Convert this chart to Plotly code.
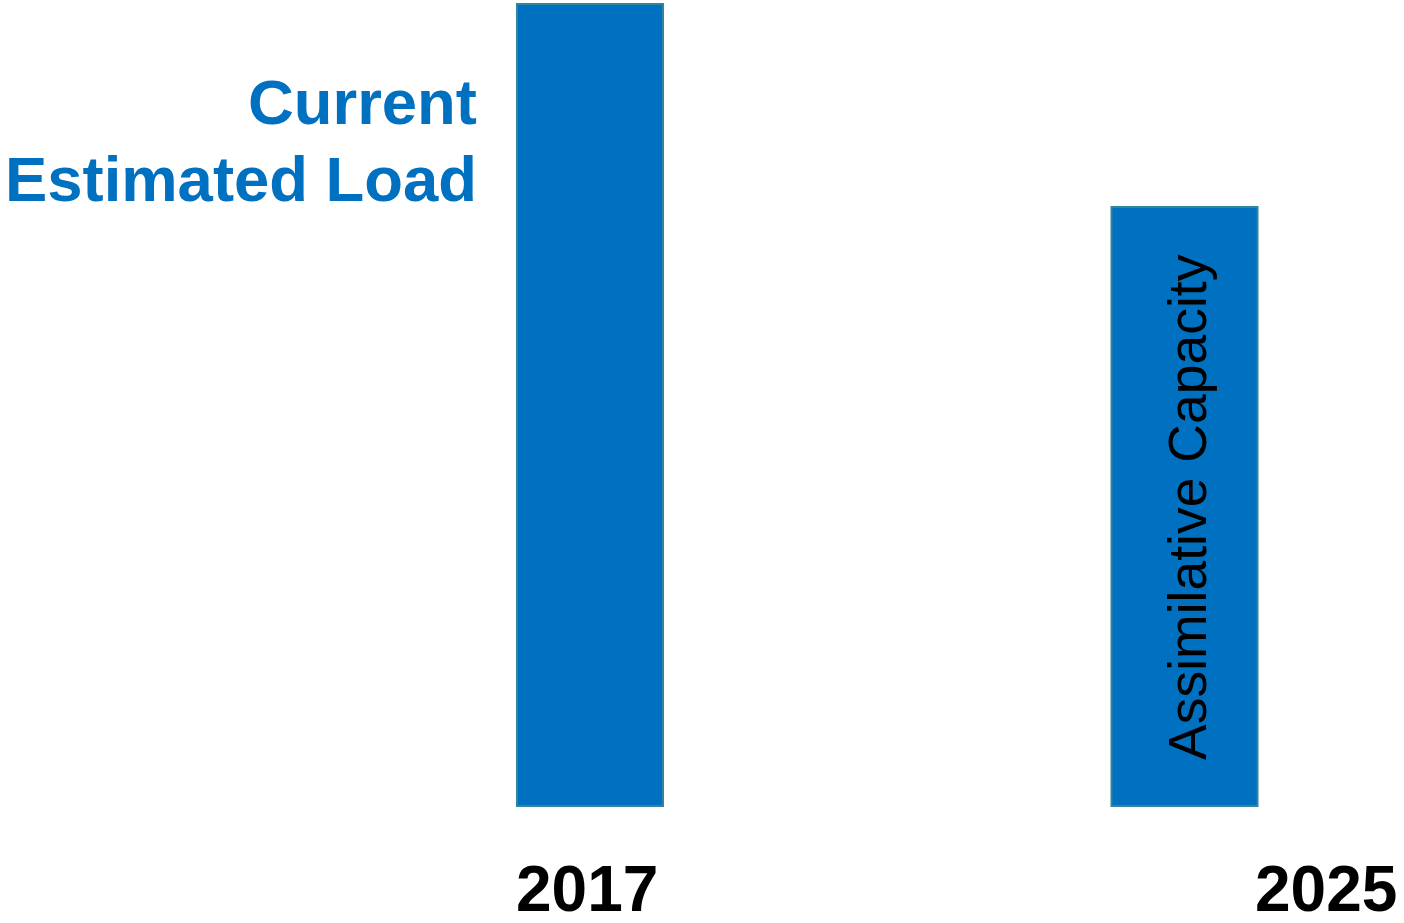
import plotly.graph_objects as go

# Pollutant load comparison: current estimate vs. assimilative capacity
years = ["2017", "2025"]
positions = [0, 1]
loads = [100.0, 74.7]
bar_labels = ["", "Assimilative Capacity"]
side_label = ["Current", "Estimated Load"]

BAR_FILL = "#0070C0"
BAR_EDGE = "#31859C"
BAR_WIDTH = 0.2456
FONT = "Liberation Sans, Arial, sans-serif"

fig = go.Figure(
    go.Bar(
        x=positions,
        y=loads,
        width=BAR_WIDTH,
        marker=dict(color=BAR_FILL, line=dict(color=BAR_EDGE, width=2)),
        hoverinfo="skip",
    )
)

annotations = []

# rotated label inside the capacity bar
annotations.append(dict(
    x=positions[1], y=loads[1] / 2, xref="x", yref="y",
    text=bar_labels[1], textangle=-90, showarrow=False,
    font=dict(family=FONT, size=53.5, color="#000000"),
    xanchor="center", yanchor="middle", xshift=3, yshift=-1,
))

# year labels under the bars
annotations.append(dict(
    x=positions[0], y=-10.6, xref="x", yref="y",
    text=f"<b>{years[0]}</b>", showarrow=False,
    font=dict(family=FONT, size=64, color="#000000"),
    xanchor="center", yanchor="middle", xshift=-3, yshift=2,
))
annotations.append(dict(
    x=positions[1] + BAR_WIDTH / 2, y=-10.6, xref="x", yref="y",
    text=f"<b>{years[1]}</b>", showarrow=False,
    font=dict(family=FONT, size=64, color="#000000"),
    xanchor="left", yanchor="middle", xshift=-5, yshift=2,
))

# side label for the current load bar
for i, line in enumerate(side_label):
    annotations.append(dict(
        x=-0.1918, y=[87.3, 77.7][i], xref="x", yref="y",
        text=f"<b>{line}</b>", showarrow=False,
        font=dict(family=FONT, size=63.4, color=BAR_FILL),
        xanchor="right", yanchor="middle", xshift=3, yshift=4,
    ))

fig.update_layout(
    width=1404, height=923,
    margin=dict(l=0, r=0, t=0, b=0),
    paper_bgcolor="white", plot_bgcolor="white",
    showlegend=False,
    annotations=annotations,
    xaxis=dict(range=[-0.9924, 1.3692], visible=False, fixedrange=True),
    yaxis=dict(range=[-14.59, 100.5], visible=False, fixedrange=True),
)

fig.write_html("out.html", config={"displayModeBar": False})
